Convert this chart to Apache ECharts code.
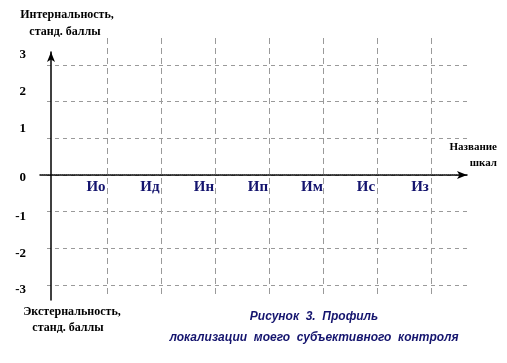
<!DOCTYPE html>
<html><head><meta charset="utf-8">
<script src="https://cdn.jsdelivr.net/npm/echarts@6/dist/echarts.min.js"></script>
<style>html,body{margin:0;padding:0;background:#fff}#c{width:507px;height:363px}</style>
</head><body><div id="c"></div>
<script>
const scales = ['Ио','Ид','Ин','Ип','Им','Ис','Из'];
const scalePositions = [1,2,3,4,5,6,7];
const yMin = -3, yMax = 3;
const yTopName = ['Интернальность,', 'станд. баллы'];
const yBottomName = ['Экстернальность,', 'станд. баллы'];
const xName = ['Название', 'шкал'];
const caption = ['Рисунок  3.  Профиль', 'локализации  моего  субъективного  контроля'];
const values = []; // the profile shows no plotted points

const serif = "'Liberation Serif', 'Times New Roman', serif";
const sans = "'Liberation Sans', Arial, sans-serif";
const navy = '#14146e';
const xMax = 7.667;

const chart = echarts.init(document.getElementById('c'), null, {renderer: 'canvas'});
const hiddenX = (gi) => ({type:'value', gridIndex: gi, show:false, min:0, max:1});
const hiddenY = (gi, mn, mx) => ({type:'value', gridIndex: gi, show:false, min: mn, max: mx});

function txt(x, y, text, opt) {
  return {type:'text', x, y, silent:true, style: Object.assign({
    text, align:'center', verticalAlign:'middle', fontFamily: serif, fontWeight:'bold',
    fontSize: 12, fill:'#000'}, opt || {})};
}

chart.setOption({
  animation: false,
  backgroundColor: '#fff',
  grid: [
    {left:53, right:40, top:38, bottom:68},   // vertical grid lines
    {left:47, right:40, top:65, bottom:78},   // horizontal grid lines + y labels
    {left:53, right:40, top:65, bottom:188},  // scale labels, bottom edge at value 0
    {left:40, right:40, top:65, bottom:78},   // x axis arrow line
    {left:51, width:10, top:52, bottom:63}    // y axis arrow line
  ],
  xAxis: [
    {type:'value', gridIndex:0, min:0, max:xMax, interval:1,
     axisLine:{show:false}, axisTick:{show:false}, axisLabel:{show:false},
     splitLine:{show:true, showMinLine:false, showMaxLine:false,
       lineStyle:{color:'#9a9a9a', width:1, type:[6,4]}}},
    hiddenX(1),
    {type:'value', gridIndex:2, position:'bottom', min:0, max:xMax, interval:1,
     axisLine:{show:false, onZero:false},
     axisTick:{show:false}, splitLine:{show:false},
     axisLabel:{show:true, margin:5, padding:[0,22,0,0], showMinLabel:false, showMaxLabel:false,
       color: navy, fontFamily: serif, fontWeight:'bold', fontSize:15,
       formatter: v => { const i = scalePositions.indexOf(v); return i >= 0 ? scales[i] : ''; }}},
    {type:'value', gridIndex:3, min:0, max:1,
     axisLine:{show:true, onZero:true, symbol:['none','arrow'], symbolSize:[6,10],
       lineStyle:{color:'#000', width:1.5, type:[1,1]}},
     axisTick:{show:false}, axisLabel:{show:false}, splitLine:{show:false}},
    hiddenX(4)
  ],
  yAxis: [
    hiddenY(0, 0, 1),
    {type:'value', gridIndex:1, min:yMin, max:yMax, interval:1,
     axisLine:{show:false}, axisTick:{show:false},
     splitLine:{show:true, lineStyle:{color:'#9a9a9a', width:1, type:[4,4]}},
     axisLabel:{show:true, margin:21, color:'#000', fontFamily: serif, fontWeight:'bold', fontSize:13,
       formatter: v => v > 0 ? '{p|' + v + '}' : (v < 0 ? '{n|' + v + '}' : '{z|0}'),
       rich:{
         p:{padding:[0,0,20,0], fontFamily: serif, fontWeight:'bold', fontSize:13, color:'#000'},
         z:{padding:[6,0,0,0], fontFamily: serif, fontWeight:'bold', fontSize:13, color:'#000'},
         n:{padding:[10,0,0,0], fontFamily: serif, fontWeight:'bold', fontSize:13, color:'#000'}
       }}},
    hiddenY(2, 0, 1),
    hiddenY(3, yMin, yMax),
    {type:'value', gridIndex:4, min:0, max:1,
     axisLine:{show:true, symbol:['none','arrow'], symbolSize:[6,10],
       lineStyle:{color:'#000', width:1.5}},
     axisTick:{show:false}, axisLabel:{show:false}, splitLine:{show:false}}
  ],
  series: [{type:'line', xAxisIndex:3, yAxisIndex:3, data: values, symbol:'none'}],
  graphic: [
    txt(67, 15, yTopName[0]),
    txt(65, 32, yTopName[1]),
    txt(72, 312, yBottomName[0]),
    txt(68, 328, yBottomName[1]),
    txt(497, 147, xName[0], {align:'right', fontSize:11}),
    txt(497, 163, xName[1], {align:'right', fontSize:11}),
    txt(314, 317, caption[0], {fontFamily: sans, fontStyle:'italic', fontSize:12, fill: navy}),
    txt(314, 338, caption[1], {fontFamily: sans, fontStyle:'italic', fontSize:12, fill: navy})
  ]
});
</script>
</body></html>
